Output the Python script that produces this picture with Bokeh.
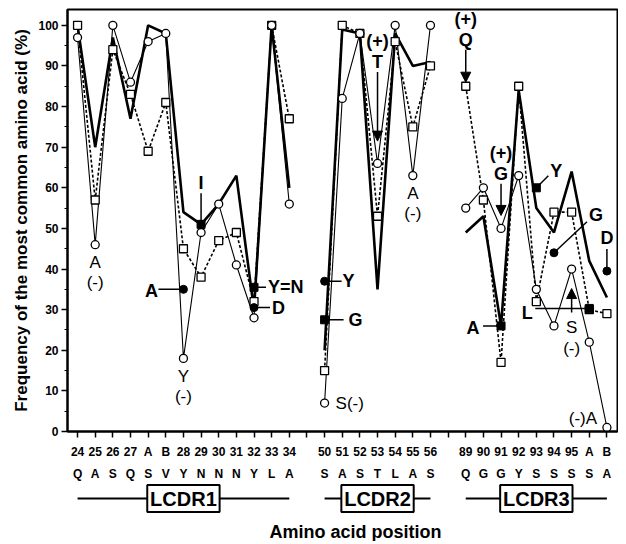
import math
from bokeh.plotting import figure
from bokeh.models import Range1d, FixedTicker, LinearAxis, Arrow, NormalHead
from bokeh.layouts import column
from bokeh.embed import file_html
from bokeh.resources import INLINE
from bokeh.core.properties import value

FONT = "Liberation Sans"

# ---------------- data ----------------
region_names = ["LCDR1", "LCDR2", "LCDR3"]

cdr1_pos = ["24", "25", "26", "27", "A", "B", "28", "29", "30", "31", "32", "33", "34"]
cdr1_res = ["Q", "A", "S", "Q", "S", "V", "Y", "N", "N", "N", "Y", "L", "A"]
cdr1_thick = [100, 70, 97, 77, 100, 98, 54, 51, 56, 63, 30, 100, 60]
cdr1_circ = [97, 46, 100, 86, 96, 98, 18, 49, 56, 41, 28, 100, 56]
cdr1_sq = [100, 57, 94, 83, 69, 81, 45, 38, 47, 49, 32, 100, 77]

cdr2_pos = ["50", "51", "52", "53", "54", "55", "56"]
cdr2_res = ["S", "A", "S", "T", "L", "A", "S"]
cdr2_thick = [20, 99, 98, 35, 98, 90, 91]
cdr2_circ = [7, 82, 98, 66, 100, 63, 100]
cdr2_sq = [15, 100, 98, 53, 96, 75, 90]

cdr3_pos = ["89", "90", "91", "92", "93", "94", "95", "A", "B"]
cdr3_res = ["Q", "G", "G", "Y", "S", "S", "S", "S", "A"]
cdr3_thick = [49, 53, 26, 84, 55, 49, 64, 42, 33]
cdr3_circ = [55, 60, 50, 63, 35, 26, 40, 22, 1]
cdr3_sq = [85, 57, 17, 85, 32, 54, 54, 30, 29]

# highlighted residues (filled markers)
fc_where = [(0, "28"), (0, "32"), (1, "50"), (2, "94"), (2, "B")]
fc_vals = [35, 30.5, 37, 44, 39.5]
fc_text = ["A", "D", "Y", "G", "D"]
fs_where = [(0, "29"), (0, "32"), (1, "50"), (2, "91"), (2, "93"), (2, "A")]
fs_vals = [51, 35.5, 27.5, 26, 60, 30.3]
fs_text = ["I", "Y=N", "G", "A", "Y", "L"]

# arrows
ar_where = [(1, "53"), (2, "89"), (2, "91"), (2, "95")]
ar_tip = [71.5, 86, 53.2, 35.2]
ar_tail = [88.5, 94, 61, 29.3]
ar_text = [["(+)", "T"], ["(+)", "Q"], ["(+)", "G"], ["S", "(-)"]]

y_ticks = [0, 10, 20, 30, 40, 50, 60, 70, 80, 90, 100]

regions = [
    (cdr1_pos, cdr1_res, cdr1_thick, cdr1_circ, cdr1_sq),
    (cdr2_pos, cdr2_res, cdr2_thick, cdr2_circ, cdr2_sq),
    (cdr3_pos, cdr3_res, cdr3_thick, cdr3_circ, cdr3_sq),
]

# ---------------- layout of x slots ----------------
starts = []
s = 0
for r in regions:
    starts.append(s)
    s += len(r[0]) + 1
last = s - 2


def at(ri, pos):
    return starts[ri] + regions[ri][0].index(pos)


xs, th, ci, sq = [], [], [], []
num_lab, res_lab = {}, {}
for k, (st, r) in enumerate(zip(starts, regions)):
    if k > 0:
        xs.append(st - 1); th.append(math.nan); ci.append(math.nan); sq.append(math.nan)
        num_lab[st - 1] = ""; res_lab[st - 1] = ""
    for j in range(len(r[0])):
        xs.append(st + j)
        th.append(r[2][j]); ci.append(r[3][j]); sq.append(r[4][j])
        num_lab[st + j] = r[0][j]
        res_lab[st + j] = r[1][j]

X0, X1 = -0.57, last + 0.6
Y0, Y1 = 0, 103.9
FW, FH = 550, 422
XS = FW / (X1 - X0)
YS = FH / (Y1 - Y0)


def dx(px):
    return px / XS


def dy(px):  # positive px = downward on screen
    return -px / YS


p = figure(frame_width=FW, frame_height=FH, x_range=Range1d(X0, X1), y_range=Range1d(Y0, Y1),
           output_backend="svg", toolbar_location=None,
           min_border_left=67, min_border_right=1, min_border_top=9, min_border_bottom=47)
p.xgrid.visible = False
p.ygrid.visible = False
p.outline_line_color = "black"
p.outline_line_width = 2
p.outline_line_alpha = 1
p.background_fill_color = "white"
p.border_fill_color = "white"

ya = p.yaxis[0]
ya.ticker = FixedTicker(ticks=y_ticks, minor_ticks=[t + 5 for t in y_ticks[:-1]])
ya.axis_line_width = 2
ya.major_tick_line_width = 1.5
ya.minor_tick_line_width = 1.2
ya.major_tick_out = 6
ya.major_tick_in = 0
ya.minor_tick_out = 3
ya.minor_tick_in = 0
ya.major_label_standoff = 3
ya.major_label_text_font = FONT
ya.major_label_text_font_style = "bold"
ya.major_label_text_font_size = "12px"
ya.major_label_text_color = "black"
ya.axis_label = "Frequency of the most common amino acid (%)"
ya.axis_label_text_font = FONT
ya.axis_label_text_font_style = "bold"
ya.axis_label_text_font_size = "17px"
ya.axis_label_text_color = "black"
ya.axis_label_standoff = 4

xa = p.xaxis[0]
xa.ticker = FixedTicker(ticks=list(range(0, last + 1)))
xa.major_label_overrides = num_lab
xa.axis_line_width = 2
xa.major_tick_line_width = 1.5
xa.major_tick_out = 6
xa.major_tick_in = 0
xa.minor_tick_line_color = None
xa.major_label_standoff = 7
xa.major_label_text_font = FONT
xa.major_label_text_font_style = "bold"
xa.major_label_text_font_size = "12px"
xa.major_label_text_color = "black"

xa2 = LinearAxis(ticker=FixedTicker(ticks=list(range(0, last + 1))), major_label_overrides=res_lab,
                 axis_line_color=None, major_tick_line_color=None, minor_tick_line_color=None,
                 major_tick_out=0, major_tick_in=0, major_label_standoff=5,
                 major_label_text_font=FONT, major_label_text_font_style="bold",
                 major_label_text_font_size="12px", major_label_text_color="black")
p.add_layout(xa2, "below")

# lines
p.line(xs, th, line_color="black", line_width=2.6)
p.line(xs, sq, line_color="black", line_width=1.6, line_dash="3 2")
p.line(xs, ci, line_color="black", line_width=1.1)

bold = dict(text_font=value(FONT), text_font_style="bold", text_font_size="18px",
            text_color="black", text_baseline="middle")
reg = dict(text_font=value(FONT), text_font_style="normal", text_font_size="17px",
           text_color="black", text_baseline="middle")

# callouts for filled markers: (text dx, text dy, align, line x0,y0,x1,y1) in px
fc_call = [(-32, 2, "center", -25, 0, 0, 0), (18, 0, "left", 0, 0, 16, 0),
           (18, 0, "left", 0, 0, 17, 0), (42, -38, "center", 0, 0, 33, -31),
           (0, -33, "center", 0, 0, 0, -22)]
fs_call = [(0, -41, "center", 0, -31, 0, 0), (14, 0, "left", 0, 0, 12, 0),
           (24, 0, "left", 0, 0, 19, 0), (-28, 2, "center", -18, 0, 0, 0),
           (20, -17, "center", 0, 0, 12, -12), (-62, 5, "center", -54, 0, 0, 0)]

for where, vals, texts, calls in [(fc_where, fc_vals, fc_text, fc_call),
                                  (fs_where, fs_vals, fs_text, fs_call)]:
    for w, v, t, c in zip(where, vals, texts, calls):
        x = at(*w)
        tdx, tdy, al, lx0, ly0, lx1, ly1 = c
        p.segment(x + dx(lx0), v + dy(ly0), x + dx(lx1), v + dy(ly1), line_color="black", line_width=1.5)
        p.text([x + dx(tdx)], [v + dy(tdy)], text=[t], text_align=al, **bold)

# arrows
for w, tip, tail, tx in zip(ar_where, ar_tip, ar_tail, ar_text):
    x = at(*w)
    p.add_layout(Arrow(end=NormalHead(size=10, fill_color="black", line_color="black", line_width=1),
                       x_start=x, y_start=tail, x_end=x, y_end=tip, line_width=1.5, line_color="black"))
    if tip < tail:
        p.text([x], [tail + dy(-10)], text=[tx[1]], text_align="center", **bold)
        p.text([x], [tail + dy(-31)], text=[tx[0]], text_align="center", **bold)
    else:
        p.text([x], [tail + dy(15)], text=[tx[0]], text_align="center", **reg)
        p.text([x], [tail + dy(36)], text=[tx[1]], text_align="center", **reg)

# "(-)" labels under open circles
for ri, pos in [(0, "25"), (0, "28"), (1, "55")]:
    x = at(ri, pos)
    v = regions[ri][3][regions[ri][0].index(pos)]
    aa = regions[ri][1][regions[ri][0].index(pos)]
    p.text([x], [v + dy(18)], text=[aa], text_align="center", **reg)
    p.text([x], [v + dy(38)], text=["(-)"], text_align="center", **reg)
x = at(1, "50")
p.text([x + dx(11)], [cdr2_circ[0]], text=["S(-)"], text_align="left", **reg)
x = at(2, "B")
p.text([x + dx(-24)], [cdr3_circ[-1] + dy(-9)], text=["(-)A"], text_align="center", **reg)

# markers
p.scatter(xs, sq, marker="square", size=8, fill_color="white", line_color="black", line_width=1.3)
p.scatter(xs, ci, marker="circle", size=8, fill_color="white", line_color="black", line_width=1.3)
p.scatter([at(*w) for w in fs_where], fs_vals, marker="square", size=8, fill_color="black", line_color="black")
p.scatter([at(*w) for w in fc_where], fc_vals, marker="circle", size=8, fill_color="black", line_color="black")

# ---------------- region bar below ----------------
H2 = 58
q = figure(frame_width=FW, frame_height=H2, x_range=p.x_range, y_range=Range1d(0, H2),
           output_backend="svg", toolbar_location=None, x_axis_location=None, y_axis_location=None,
           min_border_left=67, min_border_right=1, min_border_top=0, min_border_bottom=0)
q.outline_line_color = None
q.xgrid.visible = False
q.ygrid.visible = False
q.background_fill_color = "white"
q.border_fill_color = "white"

BOXW = 4.1
BY = 43
for name, st, r in zip(region_names, starts, regions):
    a, b = st, st + len(r[0]) - 1
    c = (a + b) / 2
    q.segment([a, c + BOXW / 2], [BY, BY], [c - BOXW / 2, b], [BY, BY], line_color="black", line_width=1.8)
    q.rect([c], [BY], width=BOXW, height=27, fill_color="white", line_color="black", line_width=2)
    q.text([c], [BY], text=[name], text_align="center", text_baseline="middle",
           text_font=value(FONT), text_font_style="bold", text_font_size="20px")
q.text([15.75], [10], text=["Amino acid position"], text_align="center", text_baseline="middle",
       text_font=value(FONT), text_font_style="bold", text_font_size="18px")

layout = column(p, q, spacing=0)
open("out.html", "w").write(file_html(layout, INLINE))
